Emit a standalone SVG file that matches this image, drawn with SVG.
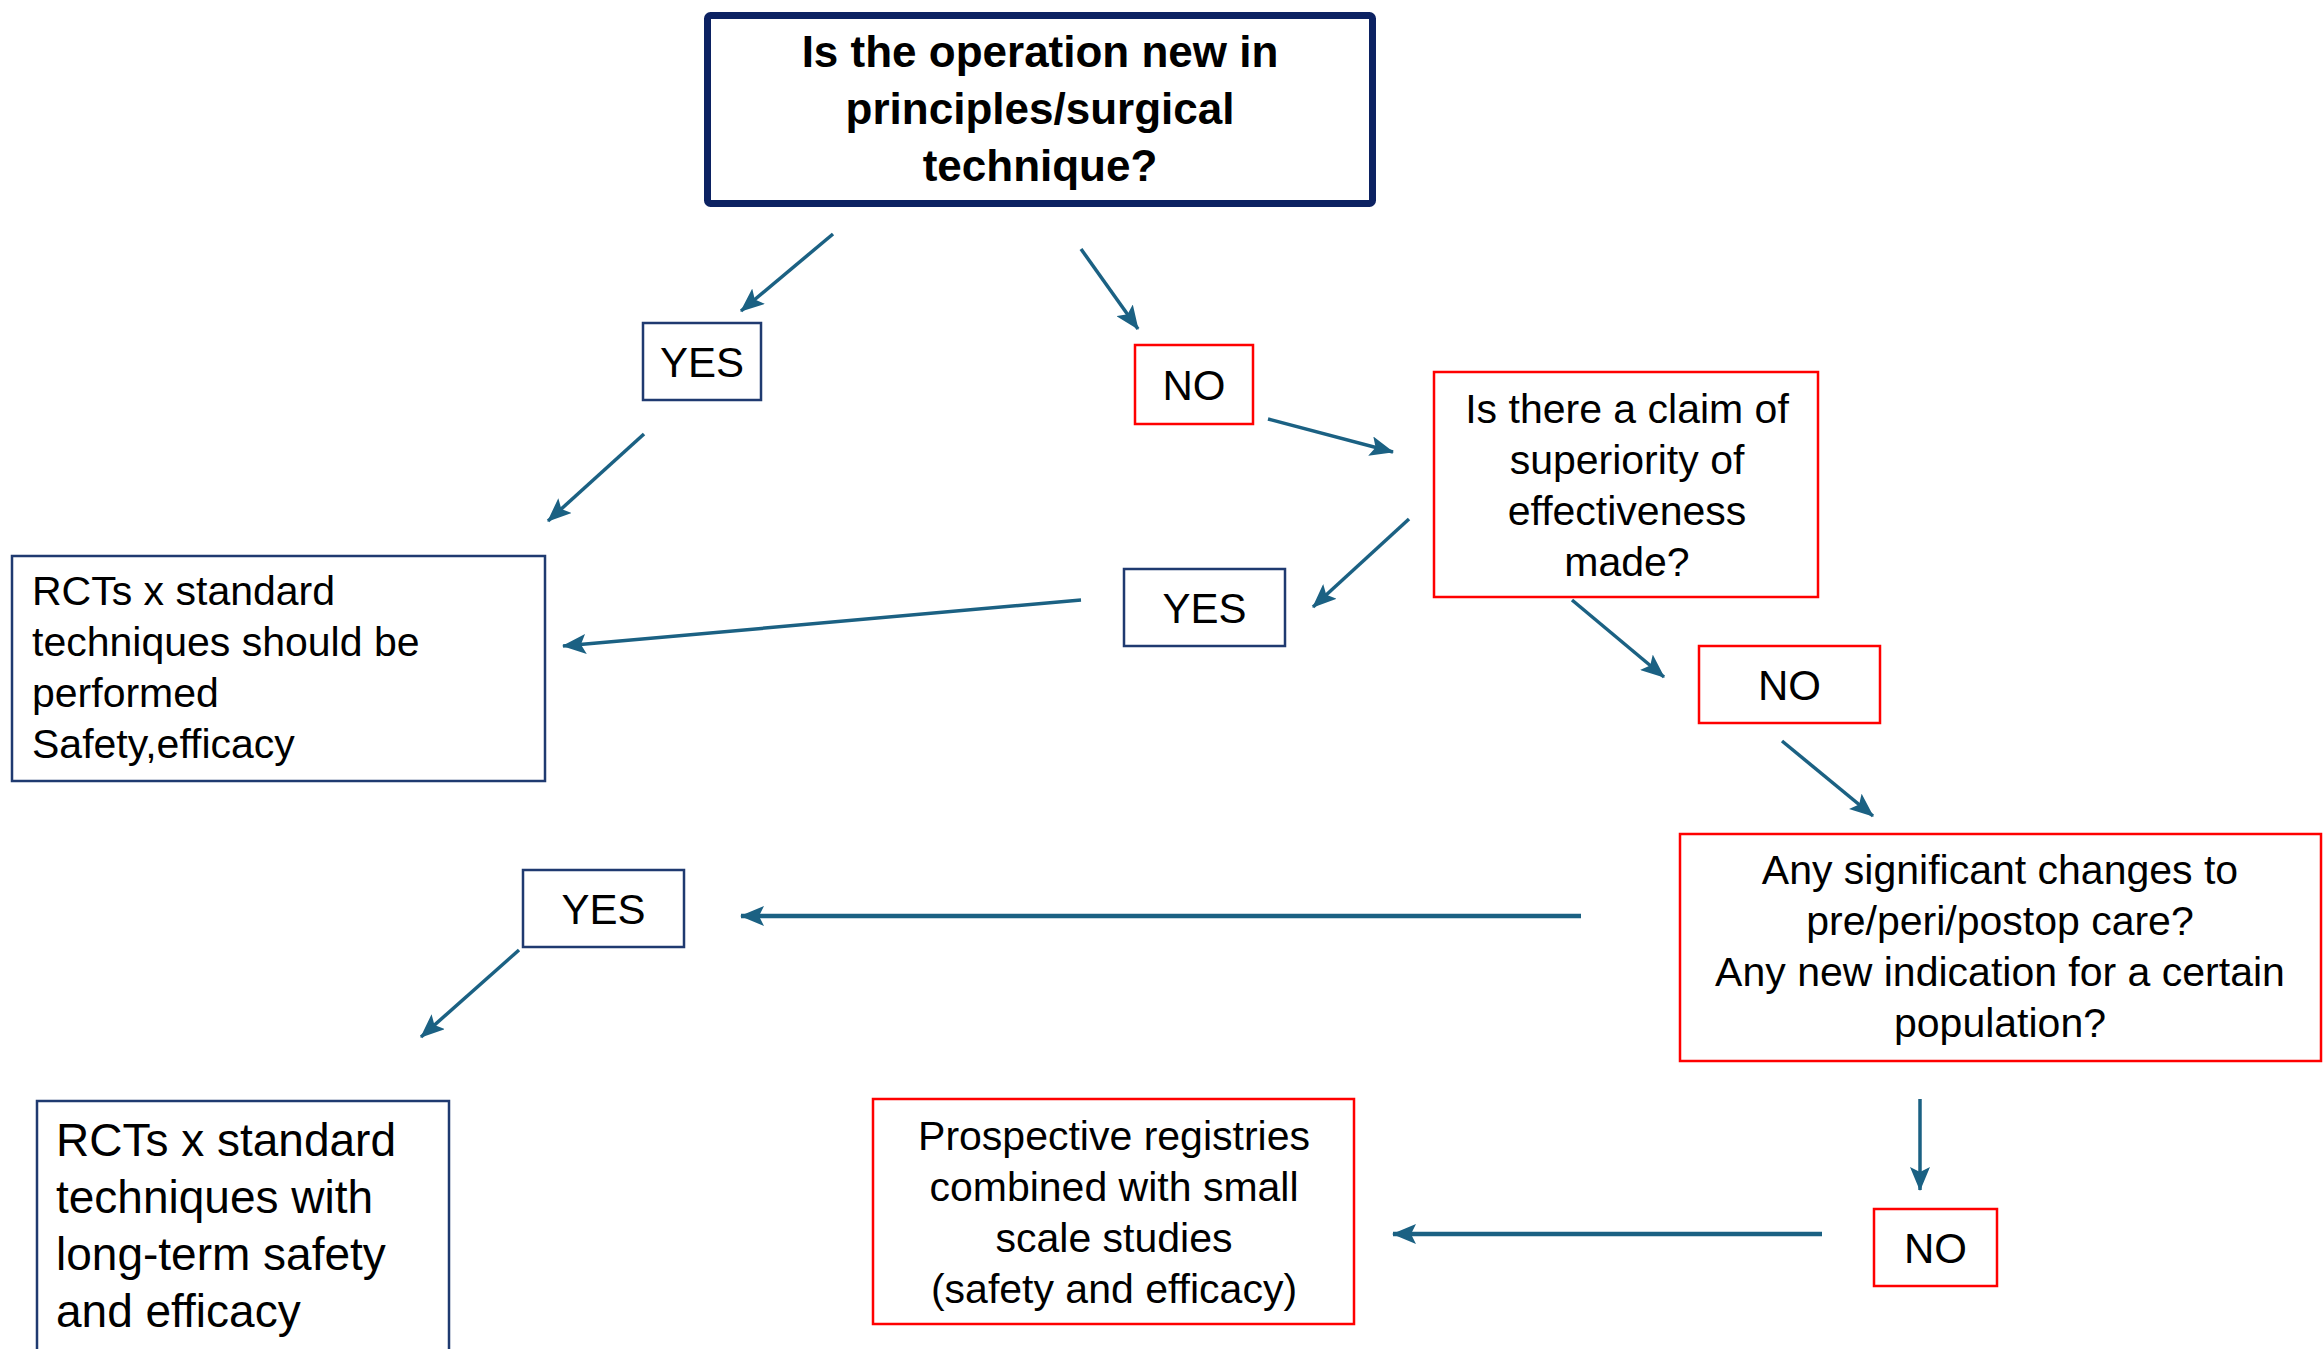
<svg xmlns="http://www.w3.org/2000/svg" width="2323" height="1349" viewBox="0 0 2323 1349">
<style>
.bg{fill:#ffffff}
.navy{fill:#ffffff;stroke:#1f3a70;stroke-width:2.5}
.red{fill:#ffffff;stroke:#ff0000;stroke-width:2.5}
.title{fill:#ffffff;stroke:#0c2262;stroke-width:7}
text{font-family:"Liberation Sans",Arial,sans-serif;fill:#000000}
.c{text-anchor:middle;font-size:41px}
.l{font-size:41px}
.l2{font-size:46px}
.yn{text-anchor:middle;font-size:42px}
.b{text-anchor:middle;font-size:44px;font-weight:bold}
.arr{stroke:#1b6183;stroke-width:3.5;fill:none;marker-end:url(#ah)}
.arrw{stroke:#1b6183;stroke-width:4.5;fill:none;marker-end:url(#ah)}
</style>
<defs>
<marker id="ah" markerUnits="userSpaceOnUse" markerWidth="24" markerHeight="20" viewBox="0 0 24 20" refX="23" refY="10" orient="auto">
<path d="M0,0 L24,10 L0,20 L5,10 Z" fill="#1b6183"/>
</marker>
</defs>
<rect class="bg" x="0" y="0" width="2323" height="1349"/>

<g id="connectors">
<line class="arr" x1="833" y1="234" x2="741" y2="311"/>
<line class="arr" x1="1081" y1="249" x2="1138" y2="329"/>
<line class="arr" x1="1268" y1="419" x2="1393" y2="452"/>
<line class="arr" x1="644" y1="434" x2="548" y2="521"/>
<line class="arr" x1="1409" y1="519" x2="1313" y2="607"/>
<line class="arr" x1="1081" y1="600" x2="563" y2="646"/>
<line class="arr" x1="1572" y1="600" x2="1664" y2="677"/>
<line class="arr" x1="1782" y1="741" x2="1873" y2="816"/>
<line class="arrw" x1="1581" y1="916" x2="741" y2="916"/>
<line class="arr" x1="519" y1="950" x2="421" y2="1037"/>
<line class="arr" x1="1920" y1="1099" x2="1920" y2="1190"/>
<line class="arrw" x1="1822" y1="1234" x2="1393" y2="1234"/>
</g>

<g id="q1">
<rect class="title" x="707.5" y="15.5" width="665" height="188" rx="3"/>
<text class="b" x="1040" y="67">Is the operation new in</text>
<text class="b" x="1040" y="124">principles/surgical</text>
<text class="b" x="1040" y="181">technique?</text>
</g>

<g id="yes1">
<rect class="navy" x="643" y="323" width="118" height="77"/>
<text class="yn" x="702" y="376.5">YES</text>
</g>

<g id="no1">
<rect class="red" x="1135" y="345" width="118" height="79"/>
<text class="yn" x="1194" y="399.5">NO</text>
</g>

<g id="q2">
<rect class="red" x="1434" y="372" width="384" height="225"/>
<text class="c" x="1627" y="423">Is there a claim of</text>
<text class="c" x="1627" y="474">superiority of</text>
<text class="c" x="1627" y="525">effectiveness</text>
<text class="c" x="1627" y="576">made?</text>
</g>

<g id="yes2">
<rect class="navy" x="1124" y="569" width="161" height="77"/>
<text class="yn" x="1204.5" y="622.5">YES</text>
</g>

<g id="rct1">
<rect class="navy" x="12" y="556" width="533" height="225"/>
<text class="l" x="32" y="605">RCTs x standard</text>
<text class="l" x="32" y="656">techniques should be</text>
<text class="l" x="32" y="707">performed</text>
<text class="l" x="32" y="758">Safety,efficacy</text>
</g>

<g id="no2">
<rect class="red" x="1699" y="646" width="181" height="77"/>
<text class="yn" x="1789.5" y="699.5">NO</text>
</g>

<g id="q3">
<rect class="red" x="1680" y="834" width="641" height="227"/>
<text class="c" x="2000" y="884">Any significant changes to</text>
<text class="c" x="2000" y="935">pre/peri/postop care?</text>
<text class="c" x="2000" y="986">Any new indication for a certain</text>
<text class="c" x="2000" y="1037">population?</text>
</g>

<g id="yes3">
<rect class="navy" x="523" y="870" width="161" height="77"/>
<text class="yn" x="603.5" y="923.5">YES</text>
</g>

<g id="rct2">
<rect class="navy" x="37" y="1101" width="412" height="270"/>
<text class="l2" x="56" y="1156">RCTs x standard</text>
<text class="l2" x="56" y="1213">techniques with</text>
<text class="l2" x="56" y="1270">long-term safety</text>
<text class="l2" x="56" y="1327">and efficacy</text>
</g>

<g id="registries">
<rect class="red" x="873" y="1099" width="481" height="225"/>
<text class="c" x="1114" y="1150">Prospective registries</text>
<text class="c" x="1114" y="1201">combined with small</text>
<text class="c" x="1114" y="1252">scale studies</text>
<text class="c" x="1114" y="1303">(safety and efficacy)</text>
</g>

<g id="no3">
<rect class="red" x="1874" y="1209" width="123" height="77"/>
<text class="yn" x="1935.5" y="1262.5">NO</text>
</g>
</svg>
